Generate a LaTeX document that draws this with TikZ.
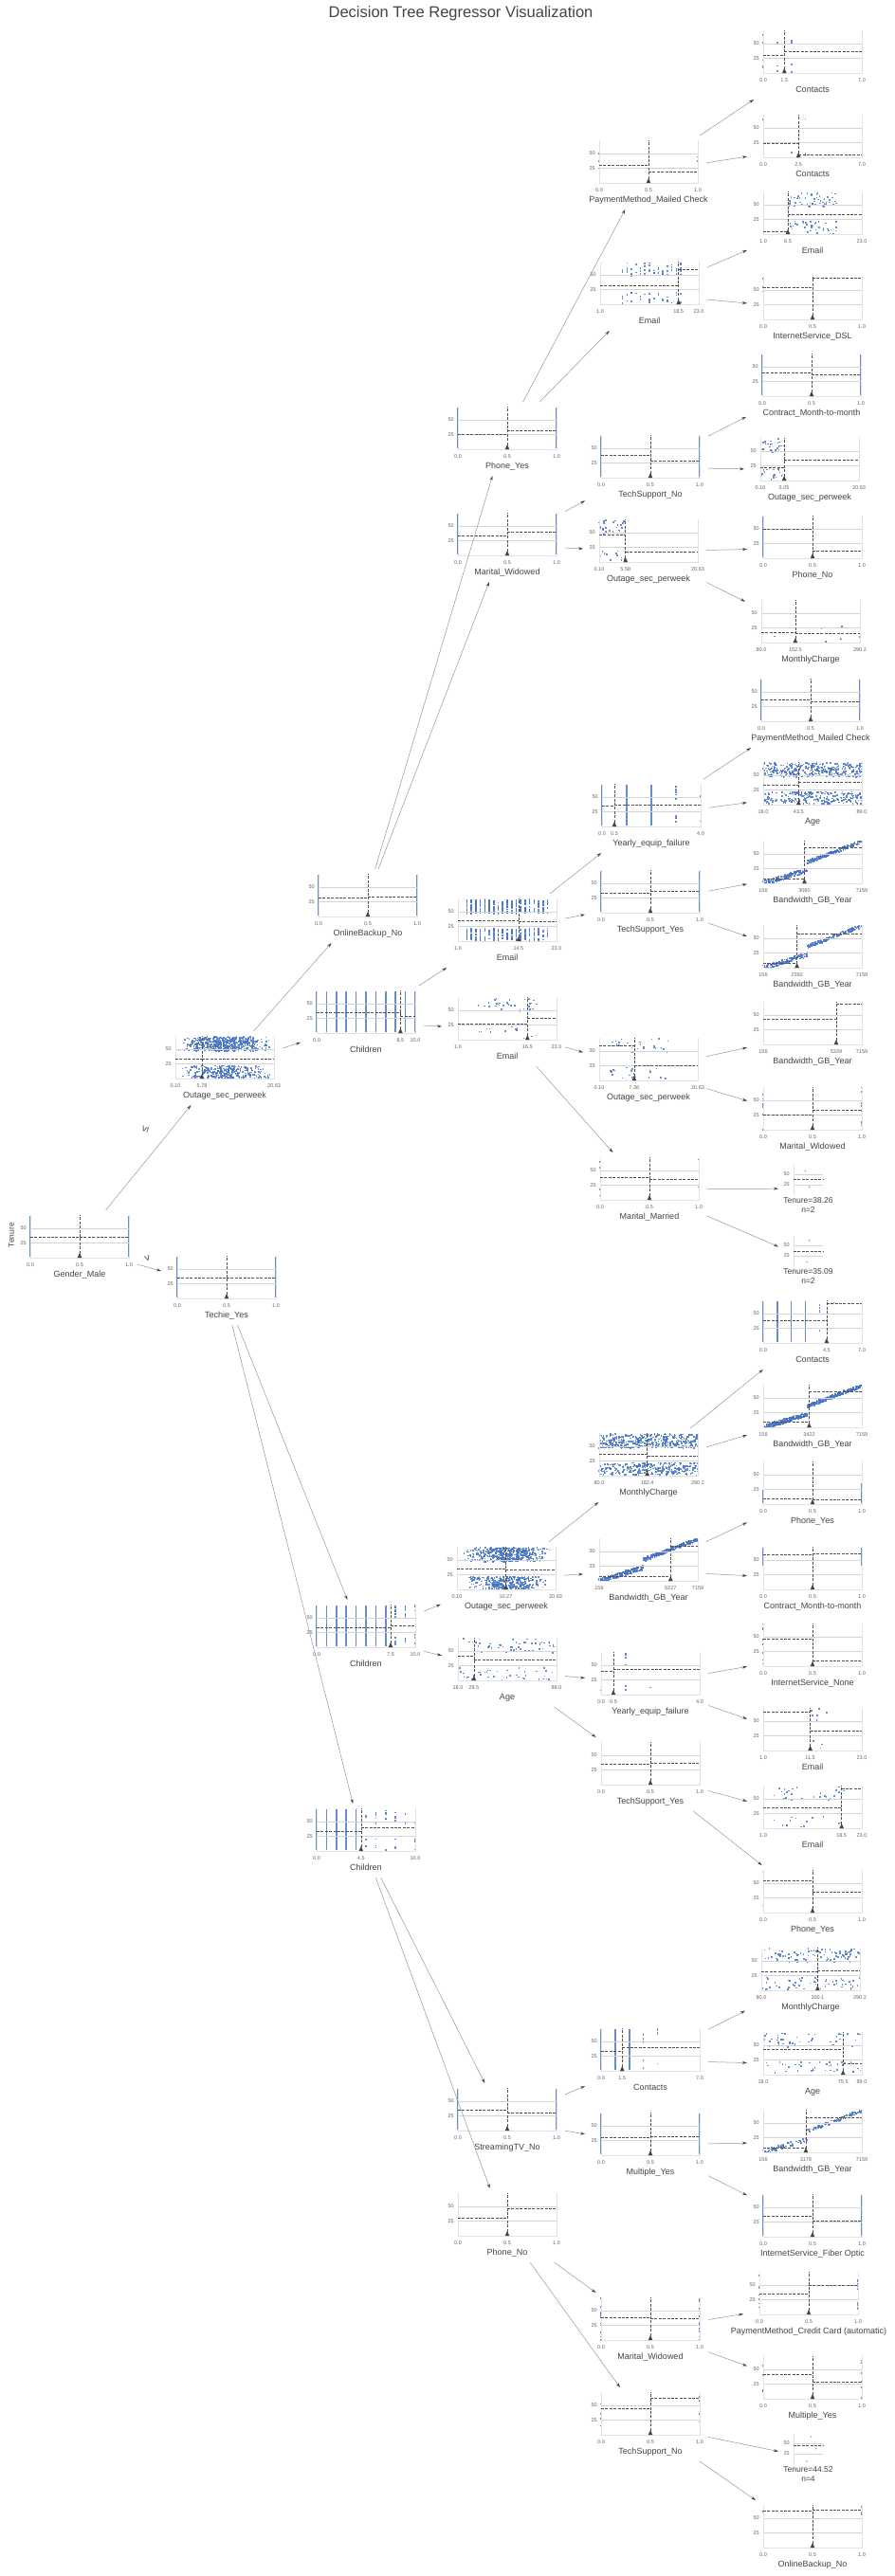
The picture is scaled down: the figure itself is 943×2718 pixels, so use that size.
\documentclass[tikz,border=0pt]{standalone}
\usepackage{fontspec}
\setmainfont{Liberation Sans}
\usetikzlibrary{arrows.meta}

\definecolor{dotblue}{RGB}{68,114,196}
\definecolor{txtgray}{RGB}{68,68,68}
\definecolor{dashgray}{RGB}{80,80,80}
\definecolor{tickgray}{RGB}{100,100,100}
\definecolor{gridgray}{RGB}{212,212,212}
\definecolor{spinegray}{RGB}{226,226,226}
\definecolor{edgegray}{RGB}{150,150,150}

\def\band{(rnd<0.6)?(47+24*rnd):(1+21*rnd)}
\def\trend{(\px<0.45)?(max(1,min(30,50*\px+8*rnd-4))):(min(71,36+35*(\px-0.45)/0.55+6*rnd-3))}

\newcommand\binbars[1][1.6pt]{\draw[dotc,draw=dotblue,line width=#1] (0,1) -- (0,71) (1,1) -- (1,71);}
\newcommand\colbars[3]{\foreach \k in {0,...,#2}{\draw[dotc,draw=dotblue,line width=#3] (\k/#1,1) -- (\k/#1,71);}}
\newcommand\scat[3]{\foreach \k in {1,...,#1}{\pgfmathsetmacro\px{#2}\pgfmathsetmacro\py{#3}\fill[dotc] (\px,\py) ++(-0.8pt,-0.8pt) rectangle ++(1.6pt,1.6pt);}}
\newcommand\dotat[2]{\fill[dotc] (#1,#2) circle[radius=0.8pt];}

\def\threeticks#1/#2/#3\relax{%
  \node[xtick] (\nd-l) at (0,0) {#1};
  \node[xtick] (\nd-s) at (\fr,0) {#2};
  \node[xtick] (\nd-r) at (1,0) {#3};}

\newcommand\splitnode[8]{%
  \def\nd{#1}\def\fr{#5}%
  \begin{scope}[shift={(#2)},x=104pt,y=0.62pt]
    #8
    \draw[gridln] (0,25) -- (1,25) (0,50) -- (1,50);
    \draw[spine] (0,72) -- (0,0) -- (1,0) -- (1,72);
    \draw[meanln] (0,#6) -- (#5,#6) (#5,#7) -- (1,#7) (#5,0) -- (#5,72);
    \fill[tipc] (#5,0) ++(-2.3pt,0pt) -- ++(4.6pt,0pt) -- ++(-2.3pt,5pt) -- cycle;
    \node[ytick] (#1-a) at (0,50) {50};
    \node[ytick] (#1-b) at (0,25) {25};
    \threeticks#4\relax
    \node[feat] (#1-f) at (0.5,0) {#3};
  \end{scope}
  \path[shift={(#2)}] (48,-11) node[tbox] (#1) {};%
}

\newcommand\leafnode[6]{%
  \begin{scope}[shift={(#2)},x=31pt,y=0.44pt]
    #6
    \draw[gridln] (0,25) -- (1,25) (0,50) -- (1,50);
    \draw[spine] (0,0) -- (0,72);
    \draw[meanln] (0,#5) -- (1,#5);
    \node[ytick] (#1-a) at (0,50) {50};
    \node[ytick] (#1-b) at (0,25) {25};
    \node[leaftxt] (#1-t) at (0.5,0) {Tenure=#3\\n=#4};
  \end{scope}
  \path[shift={(#2)}] (15.5,-7) node[lbox] (#1) {};%
}

\begin{document}
\begin{tikzpicture}[x=1pt,y=-1pt]
    \tikzset{dotc/.style={draw=none,fill=dotblue,opacity=0.8},
        gridln/.style={draw=gridgray,line width=0.6pt},
        spine/.style={draw=spinegray,line width=0.6pt},
        meanln/.style={draw=dashgray,line width=0.6pt,dash pattern=on 3pt off 1.4pt},
        tipc/.style={fill=txtgray},
        ytick/.style={anchor=east,xshift=-3pt,inner sep=1pt,text=tickgray,font=\fontsize{5.5}{6}\selectfont},
        xtick/.style={anchor=base,yshift=-9pt,inner sep=0pt,text=tickgray,font=\fontsize{5.5}{6}\selectfont},
        feat/.style={anchor=base,yshift=-20.5pt,inner sep=0pt,text=txtgray,font=\fontsize{9}{10}\selectfont},
        leaftxt/.style={anchor=north,yshift=-2.5pt,inner sep=0pt,align=center,text=txtgray,font=\fontsize{8.5}{10}\selectfont},
        tbox/.style={rectangle,minimum width=130pt,minimum height=78pt,inner sep=0pt,outer sep=0pt},
        lbox/.style={rectangle,minimum width=63pt,minimum height=60pt,inner sep=0pt,outer sep=0pt},
        tedge/.style={draw=edgegray,line width=0.5pt,-{Stealth[length=5pt,width=3pt,color=txtgray]}},
        cmp/.style={text=txtgray,font=\fontsize{11}{11}\selectfont,inner sep=0pt},
        ylab/.style={rotate=90,text=txtgray,font=\fontsize{8.5}{9}\selectfont,inner sep=0pt},
        titletxt/.style={text=txtgray,font=\fontsize{16.5}{18}\selectfont,inner sep=0pt}}
    \useasboundingbox (0,0) rectangle (943,2718);
    \fill[white] (0,0) rectangle (943,2718);
    \pgfmathsetseed{11}

    \node[titletxt] (title) at (486,14) {Decision Tree Regressor Visualization};

    \splitnode{gm}{32,1327}{Gender\_Male}{0.0/0.5/1.0}{0.5}{35.5}{35}{\binbars[2pt]}
    \node[ylab] (ylab) at (12,1303) {Tenure};
    \splitnode{o1}{185,1138}{Outage\_sec\_perweek}{0.10/5.78/20.63}{0.27}{33}{33}{\scat{800}{0.03+0.94*(rnd+rnd)/2}{\band}}
    \splitnode{t1}{187,1370}{Techie\_Yes}{0.0/0.5/1.0}{0.5}{35.6}{34.5}{\binbars[1.8pt]}

    \splitnode{ob}{336,967}{OnlineBackup\_No}{0.0/0.5/1.0}{0.5}{31}{34}{\binbars[1.8pt]}
    \splitnode{ch1}{334,1090}{Children}{0.0/8.5/10.0}{0.85}{35.5}{28.5}{\colbars{10}{10}{1.6pt}}
    \splitnode{ch2}{334,1738}{Children}{0.0/7.5/10.0}{0.75}{34}{37}{\colbars{10}{7}{1.6pt}\scat{40}{(8+floor(3*rnd))/10}{\band}}
    \splitnode{ch3}{334,1953}{Children}{0.0/4.5/10.0}{0.45}{33}{40.5}{\colbars{10}{4}{1.6pt}\scat{40}{(5+floor(6*rnd))/10}{\band}}

    \splitnode{py1}{483,474}{Phone\_Yes}{0.0/0.5/1.0}{0.5}{26}{31.5}{\binbars}
    \splitnode{mw1}{483,586}{Marital\_Widowed}{0.0/0.5/1.0}{0.5}{33}{40}{\binbars}
    \splitnode{em1}{483,993}{Email}{1.0/14.5/23.0}{0.614}{34.4}{34}{\scat{600}{floor(2+19*rnd)/22}{\band}}
    \splitnode{em2}{483,1097}{Email}{1.0/16.5/23.0}{0.705}{27.7}{37}{\scat{45}{0.2+0.6*rnd}{\band}}
    \splitnode{o2}{482,1677}{Outage\_sec\_perweek}{0.10/10.27/20.63}{0.495}{35.5}{33.3}{\scat{800}{0.05+0.9*(rnd+rnd)/2}{\band}}
    \splitnode{ag1}{483,1773}{Age}{18.0/29.5/89.0}{0.162}{42}{35.5}{\scat{90}{rnd}{\band}}
    \splitnode{st}{483,2248}{StreamingTV\_No}{0.0/0.5/1.0}{0.5}{35}{31}{\binbars[1.8pt]}
    \splitnode{pn1}{483,2359}{Phone\_No}{0.0/0.5/1.0}{0.5}{30}{47}{\binbars[1pt]}

    \splitnode{pm1}{632,193}{PaymentMethod\_Mailed Check}{0.0/0.5/1.0}{0.5}{30.5}{19}{\scat{6}{round(rnd)}{72*rnd}}
    \splitnode{em3}{633,321}{Email}{1.0/18.5/23.0}{0.795}{31}{60}{\scat{90}{floor(5+14*rnd)/22}{\band}}
    \splitnode{ts1}{634,504}{TechSupport\_No}{0.0/0.5/1.0}{0.5}{38.3}{28.3}{\binbars[1.4pt]}
    \splitnode{o3}{632,593}{Outage\_sec\_perweek}{0.10/5.58/20.63}{0.267}{46.7}{16.7}{\scat{35}{0.27*rnd}{\band}}
    \splitnode{ye1}{635,872}{Yearly\_equip\_failure}{0.0/0.5/4.0}{0.125}{35.5}{36.7}{\colbars{4}{2}{1.8pt}\scat{12}{0.75}{\band}\scat{3}{1}{\band}}
    \splitnode{tsy1}{634,963}{TechSupport\_Yes}{0.0/0.5/1.0}{0.5}{33.3}{37.2}{\binbars[1.8pt]}
    \splitnode{o4}{632,1140}{Outage\_sec\_perweek}{0.10/7.36/20.63}{0.354}{60}{25}{\scat{45}{0.1+0.6*rnd}{\band}}
    \splitnode{mm}{633,1266}{Marital\_Married}{0.0/0.5/1.0}{0.5}{37.8}{35}{\scat{6}{round(rnd)}{72*rnd}}
    \splitnode{mc1}{632,1557}{MonthlyCharge}{80.0/182.4/290.2}{0.487}{36.7}{33.3}{\scat{700}{rnd}{\band}}
    \splitnode{bw1}{632,1668}{Bandwidth\_GB\_Year}{156/5227/7159}{0.724}{8.3}{60}{\scat{500}{rnd}{\trend}}
    \splitnode{ye2}{634,1788}{Yearly\_equip\_failure}{0.0/0.5/4.0}{0.125}{40.5}{43.3}{\scat{8}{floor(3*rnd)/4}{\band}}
    \splitnode{tsy2}{634,1883}{TechSupport\_Yes}{0.0/0.5/1.0}{0.5}{35}{36.7}{\binbars[1pt]}
    \splitnode{ct1}{634,2185}{Contacts}{0.0/1.5/7.0}{0.214}{33.3}{40}{\colbars{7}{2}{1.6pt}\scat{12}{floor(3+2*rnd)/7}{\band}}
    \splitnode{my1}{634,2274}{Multiple\_Yes}{0.0/0.5/1.0}{0.5}{30}{31.7}{\binbars}
    \splitnode{mw2}{634,2469}{Marital\_Widowed}{0.0/0.5/1.0}{0.5}{38.8}{36}{\scat{25}{round(rnd)}{72*rnd}}
    \splitnode{ts2}{634,2569}{TechSupport\_No}{0.0/0.5/1.0}{0.5}{45}{62}{\scat{10}{round(rnd)}{72*rnd}}

    \splitnode{c1}{805,77}{Contacts}{0.0/1.5/7.0}{0.214}{29.5}{36}{\scat{12}{floor(3*rnd)/7}{\band}}
    \splitnode{c2}{805,166}{Contacts}{0.0/2.5/7.0}{0.357}{24.5}{4}{\scat{5}{floor(4*rnd)/7}{\band}}
    \splitnode{e4}{805,247}{Email}{1.0/6.5/23.0}{0.25}{5}{32.7}{\scat{90}{0.25+0.5*rnd}{\band}}
    \splitnode{isd}{805,337}{InternetService\_DSL}{0.0/0.5/1.0}{0.5}{54.5}{71}{\scat{3}{0}{40+30*rnd}}
    \splitnode{cm1}{804,418}{Contract\_Month-to-month}{0.0/0.5/1.0}{0.5}{40}{37}{\binbars[1.4pt]}
    \splitnode{o5}{802,507}{Outage\_sec\_perweek}{0.10/5.05/20.63}{0.241}{22}{35}{\scat{45}{0.24*rnd}{\band}}
    \splitnode{pn2}{805,589}{Phone\_No}{0.0/0.5/1.0}{0.5}{49}{11.7}{\draw[dotc,draw=dotblue,line width=1.6pt] (0,1) -- (0,71);}
    \splitnode{mc2}{803,678}{MonthlyCharge}{80.0/152.5/290.2}{0.345}{17.7}{15}{\scat{8}{rnd}{30*rnd}}
    \splitnode{pm2}{803,761}{PaymentMethod\_Mailed Check}{0.0/0.5/1.0}{0.5}{36}{33.3}{\binbars[1.8pt]}
    \splitnode{ag2}{805,849}{Age}{18.0/43.5/89.0}{0.359}{33.8}{37.7}{\scat{600}{rnd}{\band}}
    \splitnode{bw2}{805,932}{Bandwidth\_GB\_Year}{156/3080/7159}{0.418}{8.3}{61}{\scat{350}{rnd}{\trend}}
    \splitnode{bw3}{805,1021}{Bandwidth\_GB\_Year}{156/2550/7159}{0.342}{8.3}{58}{\scat{300}{rnd}{\trend}}
    \splitnode{bw4}{805,1102}{Bandwidth\_GB\_Year}{156/5339/7159}{0.74}{42.7}{69.3}{\dotat{0.55}{42}\dotat{0.93}{69}}
    \splitnode{mw3}{805,1192}{Marital\_Widowed}{0.0/0.5/1.0}{0.5}{25}{33.3}{\scat{20}{round(rnd)}{72*rnd}}
    \leafnode{l1}{837,1261}{38.26}{2}{38.6}{\dotat{0.4}{58}\dotat{0.53}{19.5}}
    \leafnode{l2}{837,1336}{35.09}{2}{36.4}{\dotat{0.53}{62}\dotat{0.45}{10}}
    \splitnode{c3}{805,1417}{Contacts}{0.0/4.5/7.0}{0.643}{37.8}{67.8}{\colbars{7}{3}{1.4pt}\scat{6}{4/7}{\band}\dotat{0.72}{68}}
    \splitnode{bw5}{805,1506}{Bandwidth\_GB\_Year}{156/3422/7159}{0.466}{9.5}{60.7}{\scat{500}{rnd}{\trend}}
    \splitnode{py2}{805,1587}{Phone\_Yes}{0.0/0.5/1.0}{0.5}{9.3}{7.7}{\draw[dotc,draw=dotblue,line width=1.6pt] (0,1) -- (0,25) (1,1) -- (1,35);}
    \splitnode{cm2}{805,1677}{Contract\_Month-to-month}{0.0/0.5/1.0}{0.5}{59.5}{60.7}{\draw[dotc,draw=dotblue,line width=1.6pt] (0,40) -- (0,71) (1,40) -- (1,71);}
    \splitnode{isn}{805,1758}{InternetService\_None}{0.0/0.5/1.0}{0.5}{46}{8.8}{\scat{10}{0}{72*rnd}\dotat{1}{8}}
    \splitnode{e5}{805,1847}{Email}{1.0/11.5/23.0}{0.477}{65}{33.7}{\scat{10}{0.45+0.2*rnd}{\band}}
    \splitnode{e6}{805,1929}{Email}{1.0/18.5/23.0}{0.795}{35}{67}{\scat{40}{0.1+0.75*rnd}{\band}}
    \splitnode{py3}{805,2018}{Phone\_Yes}{0.0/0.5/1.0}{0.5}{54}{35}{\draw[dotc,draw=dotblue,line width=1pt] (1,1) -- (1,71);\dotat{0}{68}\dotat{0}{12}}
    \splitnode{mc3}{803,2100}{MonthlyCharge}{80.0/200.1/290.2}{0.571}{31.7}{33.3}{\scat{150}{rnd}{\band}}
    \splitnode{ag3}{805,2189}{Age}{18.0/75.5/89.0}{0.81}{43.3}{18.8}{\scat{80}{rnd}{\band}}
    \splitnode{bw6}{805,2271}{Bandwidth\_GB\_Year}{156/3179/7159}{0.432}{7.2}{60}{\scat{150}{rnd}{\trend}}
    \splitnode{isf}{805,2360}{InternetService\_Fiber Optic}{0.0/0.5/1.0}{0.5}{34.5}{26.7}{\binbars[1.4pt]}
    \splitnode{pcc}{801,2442}{PaymentMethod\_Credit Card (automatic)}{0.0/0.5/1.0}{0.5}{35.5}{50}{\scat{20}{round(rnd)}{72*rnd}}
    \splitnode{my2}{805,2531}{Multiple\_Yes}{0.0/0.5/1.0}{0.5}{41.7}{29}{\scat{10}{round(rnd)}{72*rnd}}
    \leafnode{l3}{837,2600}{44.52}{4}{45}{\dotat{0.6}{66}\dotat{0.77}{37}\dotat{0.45}{7}}
    \splitnode{ob2}{805,2688}{OnlineBackup\_No}{0.0/0.5/1.0}{0.5}{62}{64}{\scat{4}{round(rnd)}{40+32*rnd}}

    \draw[tedge] (gm) -- (o1);
    \draw[tedge] (gm) -- (t1);
    \node[cmp,rotate=70] (le) at (153,1192) {≤};
    \node[cmp,rotate=-75] (gt) at (155,1328) {>};
    \draw[tedge] (o1) -- (ob);
    \draw[tedge] (o1) -- (ch1);
    \draw[tedge] (ob) -- (py1);
    \draw[tedge] (ob) -- (mw1);
    \draw[tedge] (py1) -- (pm1);
    \draw[tedge] (py1) -- (em3);
    \draw[tedge] (pm1) -- (c1);
    \draw[tedge] (pm1) -- (c2);
    \draw[tedge] (em3) -- (e4);
    \draw[tedge] (em3) -- (isd);
    \draw[tedge] (mw1) -- (ts1);
    \draw[tedge] (mw1) -- (o3);
    \draw[tedge] (ts1) -- (cm1);
    \draw[tedge] (ts1) -- (o5);
    \draw[tedge] (o3) -- (pn2);
    \draw[tedge] (o3) -- (mc2);
    \draw[tedge] (ch1) -- (em1);
    \draw[tedge] (ch1) -- (em2);
    \draw[tedge] (em1) -- (ye1);
    \draw[tedge] (em1) -- (tsy1);
    \draw[tedge] (ye1) -- (pm2);
    \draw[tedge] (ye1) -- (ag2);
    \draw[tedge] (tsy1) -- (bw2);
    \draw[tedge] (tsy1) -- (bw3);
    \draw[tedge] (em2) -- (o4);
    \draw[tedge] (em2) -- (mm);
    \draw[tedge] (o4) -- (bw4);
    \draw[tedge] (o4) -- (mw3);
    \draw[tedge] (mm) -- (l1);
    \draw[tedge] (mm) -- (l2);
    \draw[tedge] (t1) -- (ch2);
    \draw[tedge] (t1) -- (ch3);
    \draw[tedge] (ch2) -- (o2);
    \draw[tedge] (ch2) -- (ag1);
    \draw[tedge] (o2) -- (mc1);
    \draw[tedge] (o2) -- (bw1);
    \draw[tedge] (mc1) -- (c3);
    \draw[tedge] (mc1) -- (bw5);
    \draw[tedge] (bw1) -- (py2);
    \draw[tedge] (bw1) -- (cm2);
    \draw[tedge] (ag1) -- (ye2);
    \draw[tedge] (ag1) -- (tsy2);
    \draw[tedge] (ye2) -- (isn);
    \draw[tedge] (ye2) -- (e5);
    \draw[tedge] (tsy2) -- (e6);
    \draw[tedge] (tsy2) -- (py3);
    \draw[tedge] (ch3) -- (st);
    \draw[tedge] (ch3) -- (pn1);
    \draw[tedge] (st) -- (ct1);
    \draw[tedge] (st) -- (my1);
    \draw[tedge] (ct1) -- (mc3);
    \draw[tedge] (ct1) -- (ag3);
    \draw[tedge] (my1) -- (bw6);
    \draw[tedge] (my1) -- (isf);
    \draw[tedge] (pn1) -- (mw2);
    \draw[tedge] (pn1) -- (ts2);
    \draw[tedge] (mw2) -- (pcc);
    \draw[tedge] (mw2) -- (my2);
    \draw[tedge] (ts2) -- (l3);
    \draw[tedge] (ts2) -- (ob2);
\end{tikzpicture}
\end{document}
